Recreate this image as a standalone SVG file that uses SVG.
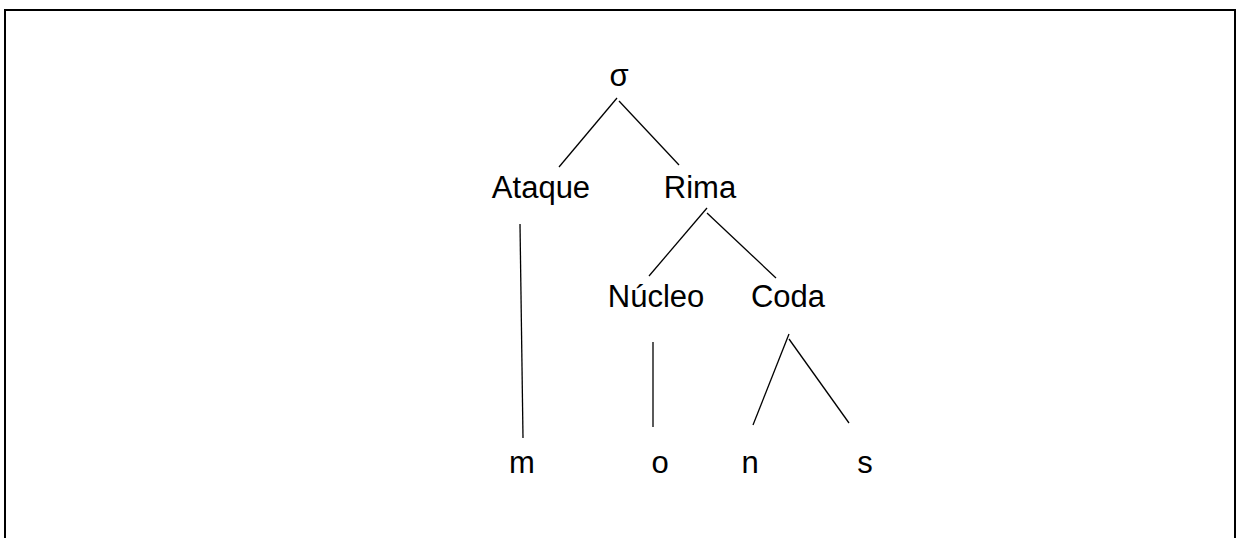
<svg xmlns="http://www.w3.org/2000/svg" width="1236" height="538" viewBox="0 0 1236 538">
  <style>
    .frame { fill: #ffffff; stroke: #000000; stroke-width: 2; }
    .edge { stroke: #000000; stroke-width: 1.3; fill: none; }
    .lbl { font-family: "Liberation Sans", Arial, sans-serif; font-size: 31px; fill: #000000; }
  </style>
  <rect x="0" y="0" width="1236" height="538" fill="#ffffff"/>
  <rect class="frame" x="5" y="10" width="1230" height="540"/>

  <g id="connectors">
    <line class="edge" x1="617" y1="98" x2="559" y2="167"/>
    <line class="edge" x1="619" y1="101" x2="679" y2="165"/>
    <line class="edge" x1="707" y1="208" x2="649" y2="276"/>
    <line class="edge" x1="707" y1="213" x2="776" y2="278"/>
    <line class="edge" x1="520" y1="224" x2="523" y2="438"/>
    <line class="edge" x1="653" y1="342" x2="653" y2="427"/>
    <line class="edge" x1="789" y1="334" x2="753" y2="425"/>
    <line class="edge" x1="789" y1="339" x2="849" y2="423"/>
  </g>

  <g id="sigma"><text class="lbl" x="619" y="86" text-anchor="middle">σ</text></g>
  <g id="ataque"><text class="lbl" x="541" y="198" text-anchor="middle">Ataque</text></g>
  <g id="rima"><text class="lbl" x="700" y="198" text-anchor="middle">Rima</text></g>
  <g id="nucleo"><text class="lbl" x="656" y="307" text-anchor="middle">Núcleo</text></g>
  <g id="coda"><text class="lbl" x="788" y="307" text-anchor="middle">Coda</text></g>
  <g id="m"><text class="lbl" x="522" y="473" text-anchor="middle">m</text></g>
  <g id="o"><text class="lbl" x="660" y="473" text-anchor="middle">o</text></g>
  <g id="n"><text class="lbl" x="750" y="473" text-anchor="middle">n</text></g>
  <g id="s"><text class="lbl" x="865" y="473" text-anchor="middle">s</text></g>
</svg>
